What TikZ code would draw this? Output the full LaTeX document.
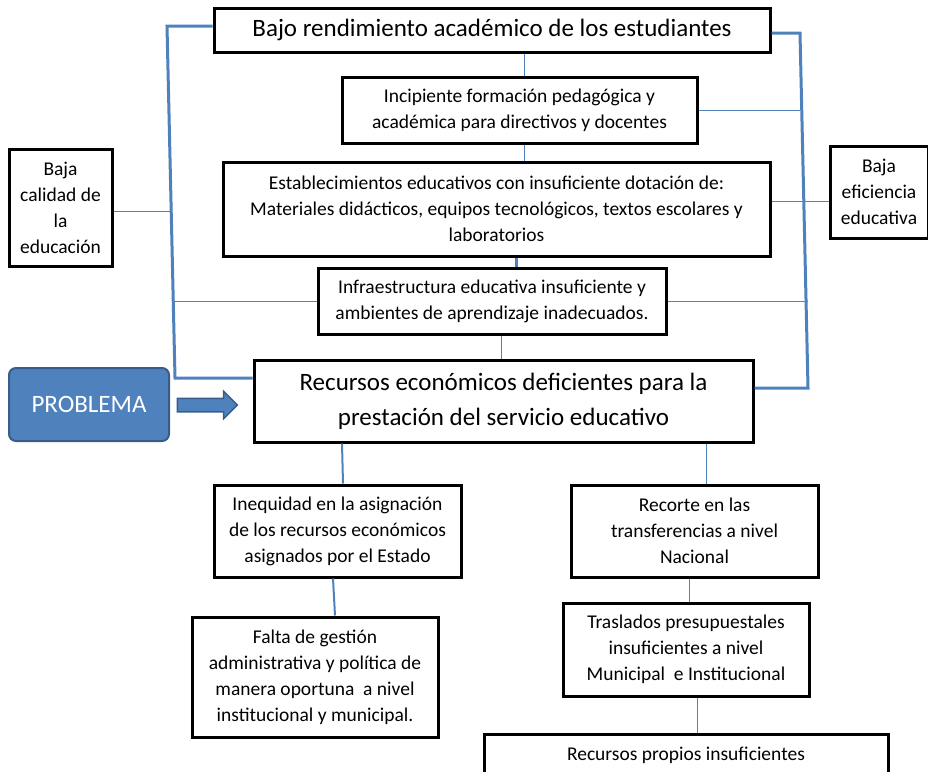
\documentclass[tikz,border=0pt]{standalone}
\usepackage{fontspec}
\setmainfont{Carlito}
\usetikzlibrary{shapes.arrows}
\definecolor{azul}{HTML}{4F81BD}
\definecolor{azulosc}{HTML}{385D8A}

\begin{document}
\begin{tikzpicture}[x=1pt,y=-1pt,
  caja/.style={draw, line width=3pt, align=center, inner sep=0pt, font=\fontsize{19.5}{26}\selectfont},
  grande/.style={caja, font=\fontsize{25}{35}\selectfont},
  fina/.style={azul, line width=1pt},
  media/.style={azul, line width=2pt},
  gruesa/.style={azul, line width=3pt}]
\useasboundingbox (0,0) rectangle (928,771);

\node[grande, minimum width=556, minimum height=44] (top) at (492,30) {Bajo rendimiento académico de los estudiantes};
\node[caja, minimum width=355, minimum height=66] (incip) at (519.5,110) {Incipiente formación pedagógica y\\académica para directivos y docentes};
\node[caja, minimum width=547, minimum height=94] (estab) at (496.5,209) {Establecimientos educativos con insuficiente dotación de:\\Materiales didácticos, equipos tecnológicos, textos escolares y\\laboratorios};
\node[caja, minimum width=348, minimum height=66] (infra) at (492,301) {Infraestructura educativa insuficiente y\\ambientes de aprendizaje inadecuados.};
\node[grande, minimum width=499, minimum height=82] (recursos) at (503.5,401) {Recursos económicos deficientes para la\\prestación del servicio educativo};
\node[caja, minimum width=103, minimum height=117] (calidad) at (60.5,207.5) {Baja\\calidad de\\la\\educación};
\node[caja, minimum width=98, minimum height=92] (eficiencia) at (879,192) {Baja\\eficiencia\\educativa};
\node[draw=azulosc, fill=azul, line width=2pt, rounded corners=7pt, minimum width=160, minimum height=73, text=white, font=\fontsize{25}{30}\selectfont] (problema) at (89,404.5) {PROBLEMA};
\node[single arrow, draw=azulosc, fill=azul, line width=1.5pt, minimum height=60, inner xsep=0pt, inner ysep=6pt, single arrow head extend=7pt] (flecha) at (204,405) {};
\node[caja, minimum width=247, minimum height=92] (inequidad) at (337.5,531) {Inequidad en la asignación\\de los recursos económicos\\asignados por el Estado};
\node[caja, minimum width=246, minimum height=120] (falta) at (315,677) {Falta de gestión\\administrativa y política de\\manera oportuna \ a nivel\\institucional y municipal.};
\node[caja, minimum width=247, minimum height=92] (recorte) at (694.5,531) {Recorte en las\\transferencias a nivel\\Nacional};
\node[caja, minimum width=246, minimum height=93] (traslados) at (686,649.5) {Traslados presupuestales\\insuficientes a nivel\\Municipal \ e Institucional};
\node[caja, minimum width=404, minimum height=42] (propios) at (686,755) {Recursos propios insuficientes};

% corchetes laterales
\coordinate (lt) at (167,26);
\coordinate (lb) at (175,378);
\coordinate (rt) at (800,33);
\coordinate (rb) at (808,388);
\draw[gruesa] ([yshift=4pt]top.west) -- (lt) -- (lb) -- (recursos.west |- lb);
\draw[gruesa] ([yshift=-3pt]top.east) -- (rt) -- (rb) -- (recursos.east |- rb);
\draw[fina] (calidad.east |- 0,211) -- (171,211);
\draw[fina] (infra.west) -- (infra.west -| lb);
\draw[fina] (incip.east) -- (incip.east -| rt);
\draw[fina] (estab.east |- 0,201) -- (eficiencia.west |- 0,201);
\draw[fina] (infra.east) -- (infra.east -| rb);

% cadena central
\draw[fina] (top.south -| 524,0) -- (incip.north -| 524,0);
\draw[fina] (incip.south -| 524,0) -- (estab.north -| 524,0);
\draw[gruesa] (estab.south -| 516,0) -- (infra.north -| 516,0);
\draw[fina] (infra.south -| 501,0) -- (recursos.north -| 501,0);
\draw[media] (recursos.south -| 342,0) -- (inequidad.north -| 343,0);
\draw[media] (inequidad.south -| 333,0) -- (falta.north -| 335,0);
\draw[fina] (recursos.south -| 706,0) -- (recorte.north -| 706,0);
\draw[fina] (recorte.south -| 689,0) -- (traslados.north -| 689,0);
\draw[fina] (traslados.south -| 697,0) -- (propios.north -| 697,0);
\end{tikzpicture}
\end{document}
